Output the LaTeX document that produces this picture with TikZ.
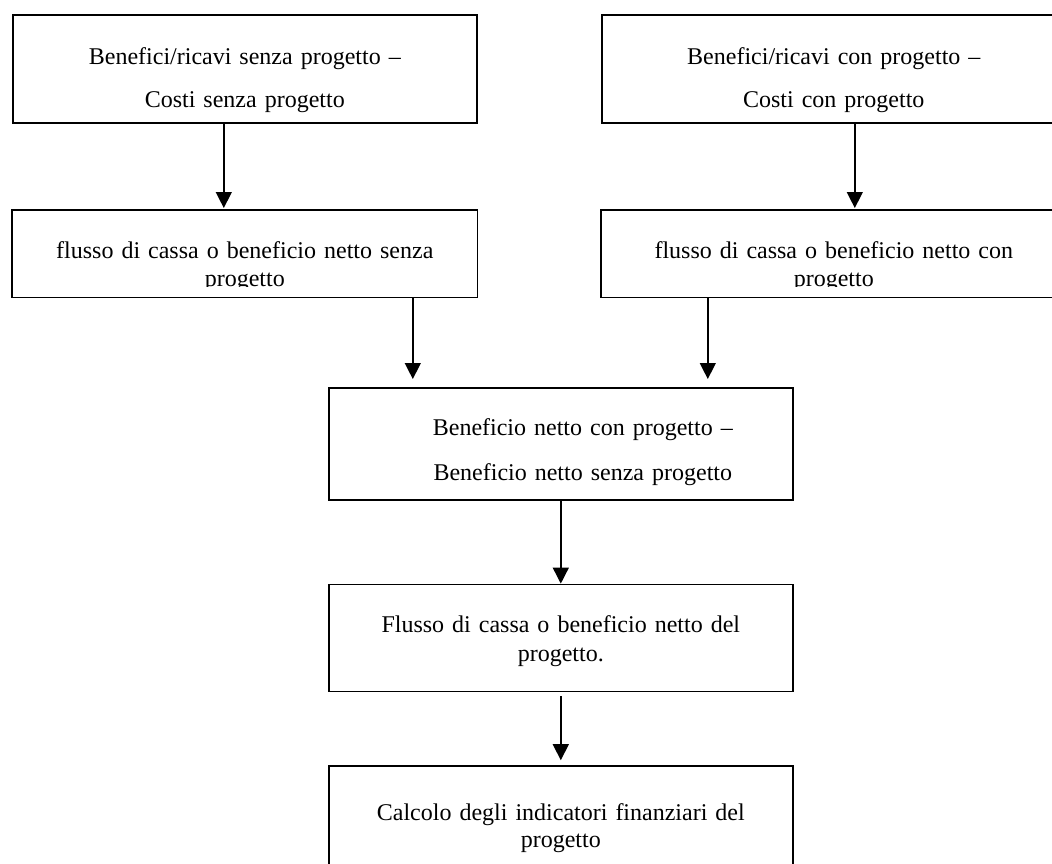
\documentclass[tikz,border=0pt]{standalone}
\usepackage{fontspec}
\setmainfont{Liberation Serif}
\usepackage{tikz}
\usetikzlibrary{arrows.meta, positioning}

\begin{document}
\begin{tikzpicture}[x=1pt, y=-1pt, >={Triangle[length=16pt, width=16pt]},
    flowbox/.style={draw=black, line width=1.6pt, rectangle, inner sep=0pt, text width=464pt, align=center, anchor=north west, font=\fontsize{24pt}{#1}\selectfont},
    flowarrow/.style={->, line width=1.4pt, black}]
        \useasboundingbox (0,0) rectangle (1052,863);

        % Nodes, upper row
        \node[flowbox=43pt, text height=50pt, text depth=58pt] (senza) at (12,14) {Benefici/ricavi senza progetto –\\Costi senza progetto};
        \node[flowbox=43pt, text height=50pt, text depth=58pt] (con) at (601,14) {Benefici/ricavi con progetto –\\Costi con progetto};

        % second row, text cut off by the box as in the original
        \begin{scope}
            \clip (0,0) rectangle (1052,286);
            \node[flowbox=28pt, draw=none, text height=48pt, text depth=38pt] (flussoSenza) at (12,210) {flusso di cassa o beneficio netto senza\\progetto};
            \node[flowbox=28pt, draw=none, text height=48pt, text depth=38pt] (flussoCon) at (601,210) {flusso di cassa o beneficio netto con\\progetto};
        \end{scope}
        \draw[line width=1.6pt] (flussoSenza.north west) rectangle (flussoSenza.south east);
        \draw[line width=1.6pt] (flussoCon.north west) rectangle (flussoCon.south east);

        % Nodes, middle column
        \node[flowbox=45pt, text height=48pt, text depth=64pt] (differenza) at (328,387) {\hspace*{44pt}Beneficio netto con progetto –\\\hspace*{44pt}Beneficio netto senza progetto};
        \node[flowbox=29pt, text height=48pt, text depth=59pt, below=83pt of differenza] (flussoProgetto) {Flusso di cassa o beneficio netto del\\progetto.};
        \node[flowbox=27pt, text height=54pt, text depth=53pt, below=73pt of flussoProgetto] (indicatori) {Calcolo degli indicatori finanziari del\\progetto};

        % Paths
        \draw[flowarrow, shorten >=2pt] ([xshift=-21pt]senza.south) -- ([xshift=-21pt]flussoSenza.north);
        \draw[flowarrow, shorten >=2pt] ([xshift=21pt]con.south) -- ([xshift=21pt]flussoCon.north);
        \draw[flowarrow, shorten >=8pt] ([xshift=168pt]flussoSenza.south) -- ([xshift=-148pt]differenza.north);
        \draw[flowarrow, shorten >=8pt] ([xshift=-126pt]flussoCon.south) -- ([xshift=147pt]differenza.north);
        \draw[flowarrow] (differenza.south) -- (flussoProgetto.north);
        \draw[flowarrow, shorten <=4pt, shorten >=5pt] (flussoProgetto.south) -- (indicatori.north);
    \end{tikzpicture}
\end{document}
